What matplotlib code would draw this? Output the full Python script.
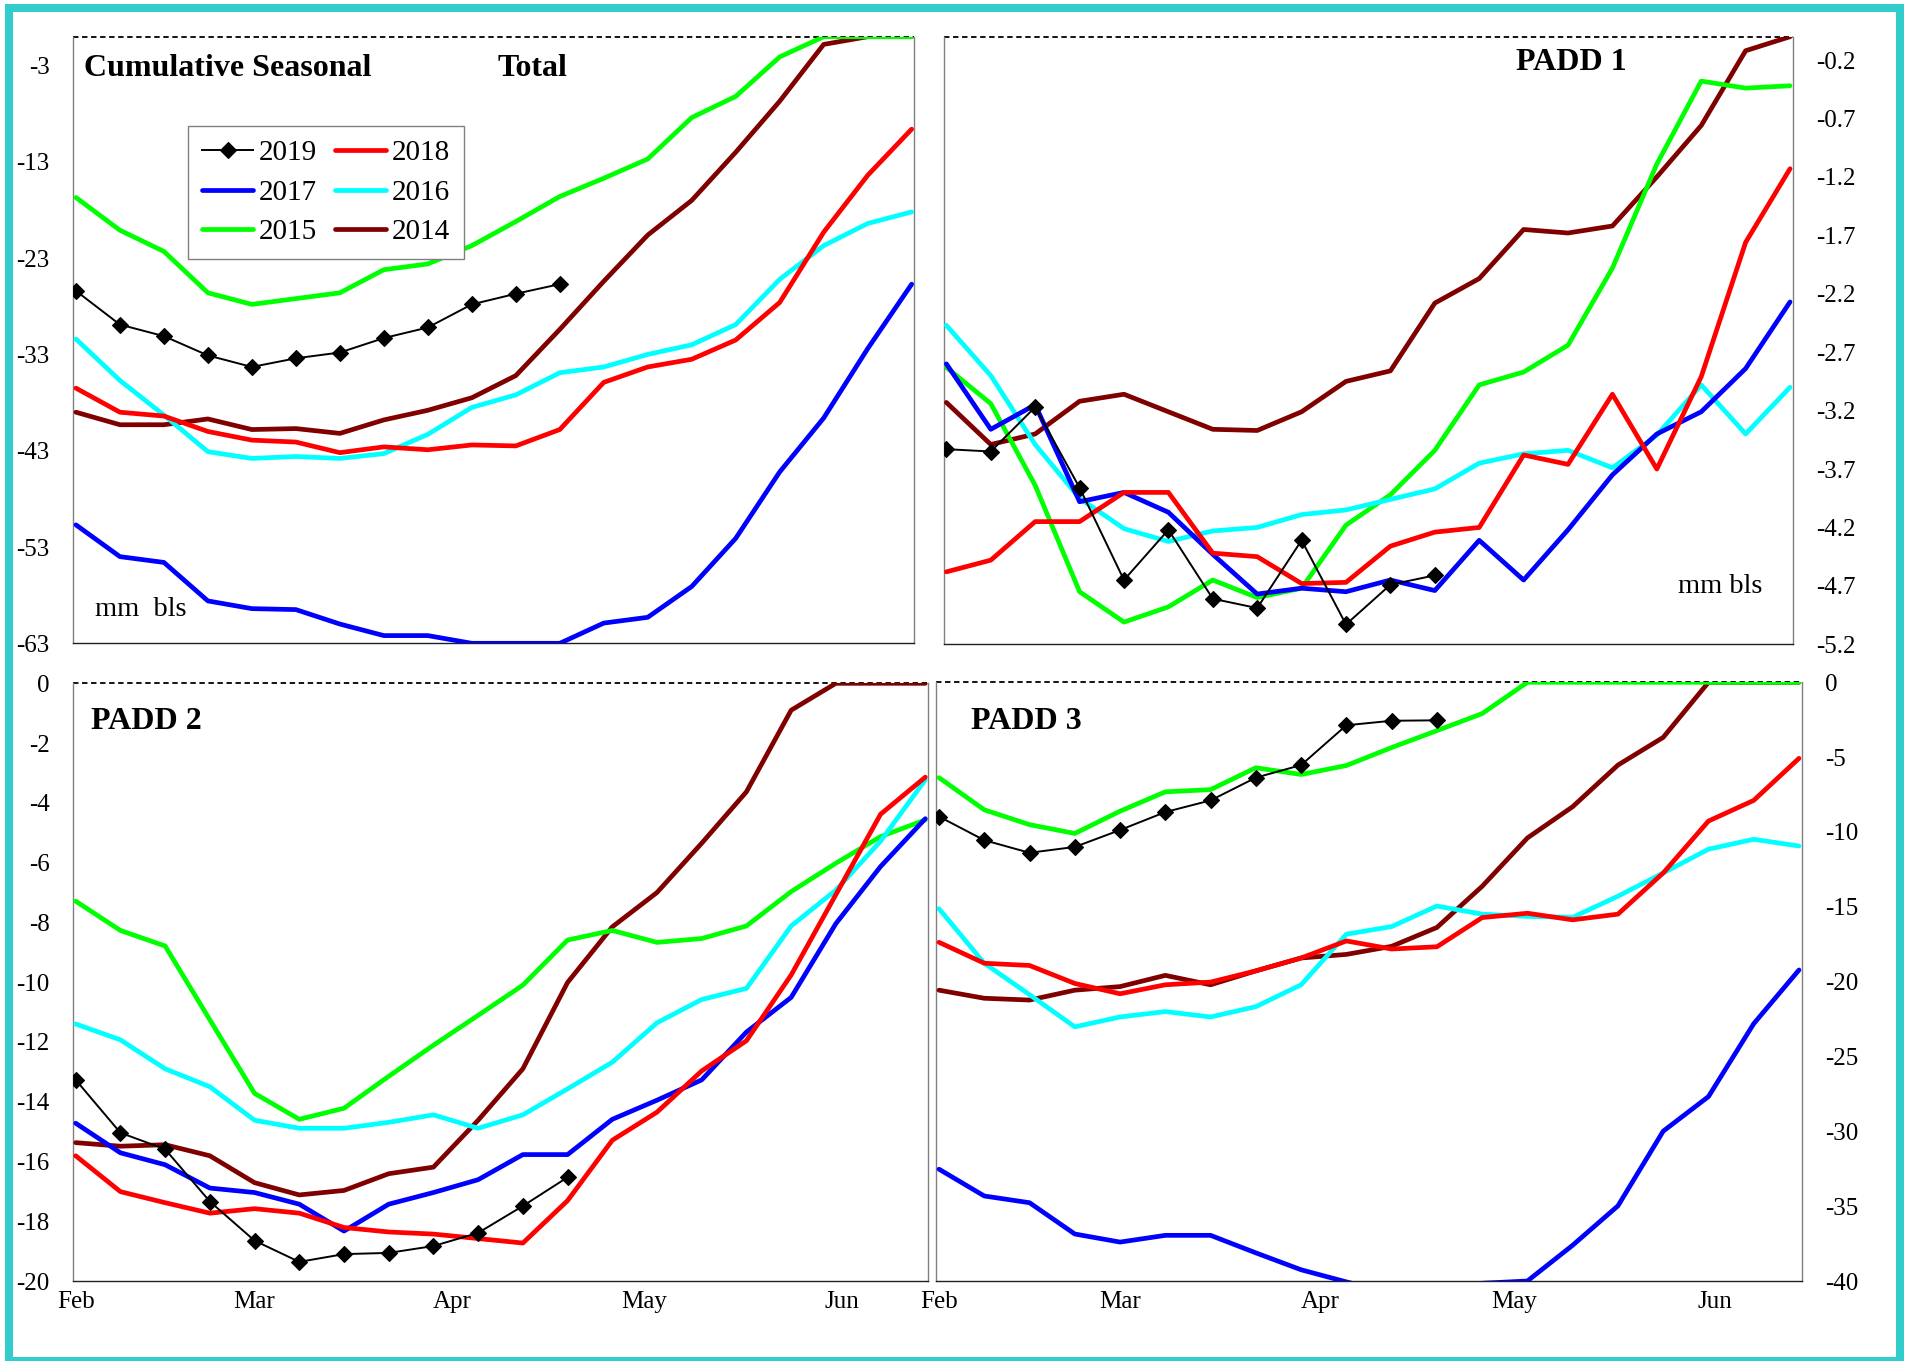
import matplotlib
matplotlib.use("Agg")
import matplotlib.pyplot as plt
import numpy as np
from matplotlib.patches import Rectangle

plt.rcParams['font.family'] = ['Liberation Serif', 'DejaVu Serif']
plt.rcParams['axes.unicode_minus'] = False

# ---------------- data ----------------
years = ['2019', '2018', '2017', '2016', '2015', '2014']
colors = {'2019': 'black', '2018': '#FF0000', '2017': '#0000FF',
          '2016': '#00FFFF', '2015': '#00FF00', '2014': '#800000'}
month_labels = ['Feb', 'Mar', 'Apr', 'May', 'Jun']
month_start_days = [0, 28, 59, 89, 120]   # days after Feb 1, weekly data

# Total (mm bls)
tot_2019 = [-26.4, -29.9, -31.1, -33.1, -34.3, -33.4, -32.8, -31.3, -30.2, -27.8, -26.7, -25.7]
tot_2018 = [-36.5, -39.0, -39.4, -41.0, -41.9, -42.1, -43.2, -42.6, -42.9, -42.4, -42.5, -40.8,
            -35.9, -34.3, -33.5, -31.5, -27.6, -20.3, -14.4, -9.6]
tot_2017 = [-50.7, -54.0, -54.6, -58.6, -59.4, -59.5, -61.0, -62.2, -62.2, -63.0, -63.0, -63.0,
            -60.9, -60.3, -57.1, -52.1, -45.2, -39.6, -32.4, -25.7]
tot_2016 = [-31.4, -35.7, -39.3, -43.1, -43.8, -43.6, -43.8, -43.3, -41.3, -38.5, -37.2, -34.9,
            -34.3, -33.0, -32.0, -29.9, -25.2, -21.7, -19.4, -18.2]
tot_2015 = [-16.7, -20.1, -22.3, -26.6, -27.8, -27.2, -26.6, -24.2, -23.6, -21.7, -19.2, -16.6,
            -14.7, -12.7, -8.4, -6.2, -2.1, 0.0, 0.0, 0.0]
tot_2014 = [-39.0, -40.3, -40.3, -39.7, -40.8, -40.7, -41.2, -39.8, -38.8, -37.5, -35.2, -30.4,
            -25.4, -20.6, -17.0, -12.0, -6.7, -0.8, 0.0, 0.0]

# PADD 1
p1_2019 = [-3.53, -3.55, -3.17, -3.86, -4.65, -4.22, -4.81, -4.89, -4.31, -5.03, -4.69, -4.61]
p1_2018 = [-4.58, -4.48, -4.15, -4.15, -3.90, -3.90, -4.42, -4.45, -4.68, -4.67, -4.36, -4.24,
           -4.20, -3.58, -3.66, -3.06, -3.70, -2.91, -1.76, -1.13]
p1_2017 = [-2.80, -3.36, -3.15, -3.98, -3.90, -4.07, -4.43, -4.77, -4.72, -4.75, -4.65, -4.74,
           -4.31, -4.65, -4.22, -3.75, -3.40, -3.21, -2.84, -2.27]
p1_2016 = [-2.47, -2.90, -3.49, -3.95, -4.21, -4.32, -4.23, -4.20, -4.09, -4.05, -3.96, -3.87,
           -3.65, -3.57, -3.54, -3.69, -3.41, -2.98, -3.40, -3.00]
p1_2015 = [-2.83, -3.14, -3.84, -4.75, -5.01, -4.88, -4.65, -4.80, -4.72, -4.18, -3.92, -3.54,
           -2.98, -2.87, -2.64, -1.98, -1.09, -0.38, -0.44, -0.42]
p1_2014 = [-3.13, -3.49, -3.40, -3.12, -3.06, -3.21, -3.36, -3.37, -3.21, -2.95, -2.86, -2.28,
           -2.07, -1.65, -1.68, -1.62, -1.20, -0.76, -0.12, 0.0]

# PADD 2
p2_2019 = [-13.27, -15.04, -15.59, -17.34, -18.65, -19.36, -19.10, -19.06, -18.83, -18.39, -17.49, -16.53]
p2_2018 = [-15.81, -17.01, -17.38, -17.73, -17.58, -17.73, -18.21, -18.36, -18.43, -18.58, -18.73, -17.31,
           -15.29, -14.35, -12.97, -11.96, -9.76, -7.07, -4.38, -3.14]
p2_2017 = [-14.72, -15.71, -16.11, -16.89, -17.04, -17.43, -18.33, -17.43, -17.04, -16.61, -15.77, -15.77,
           -14.59, -13.95, -13.27, -11.67, -10.51, -8.04, -6.13, -4.53]
p2_2016 = [-11.40, -11.93, -12.90, -13.50, -14.62, -14.89, -14.89, -14.69, -14.44, -14.89, -14.44, -13.57,
           -12.68, -11.36, -10.58, -10.21, -8.12, -6.92, -5.28, -3.23]
p2_2015 = [-7.29, -8.27, -8.79, -11.26, -13.72, -14.59, -14.22, -13.15, -12.11, -11.11, -10.10, -8.59,
           -8.27, -8.67, -8.54, -8.12, -6.97, -6.02, -5.13, -4.57]
p2_2014 = [-15.37, -15.49, -15.44, -15.81, -16.71, -17.12, -16.97, -16.41, -16.19, -14.62, -12.90, -10.01,
           -8.15, -7.00, -5.35, -3.63, -0.90, 0.0, 0.0, 0.0]

# PADD 3
p3_2019 = [-8.97, -10.55, -11.39, -11.00, -9.87, -8.67, -7.89, -6.37, -5.53, -2.87, -2.57, -2.54]
p3_2018 = [-17.37, -18.77, -18.92, -20.12, -20.81, -20.21, -20.03, -19.28, -18.42, -17.28, -17.82, -17.67,
           -15.72, -15.43, -15.87, -15.49, -12.74, -9.27, -7.89, -5.08]
p3_2017 = [-32.53, -34.32, -34.77, -36.86, -37.40, -36.95, -36.95, -38.12, -39.25, -40.06, -40.80, -40.60,
           -40.15, -40.00, -37.61, -34.98, -29.99, -27.68, -22.81, -19.22]
p3_2016 = [-15.13, -18.77, -20.87, -23.02, -22.36, -22.00, -22.36, -21.67, -20.21, -16.83, -16.32, -14.95,
           -15.49, -15.64, -15.70, -14.29, -12.74, -11.15, -10.49, -10.94]
p3_2015 = [-6.37, -8.52, -9.51, -10.10, -8.61, -7.32, -7.17, -5.71, -6.16, -5.56, -4.36, -3.23,
           -2.09, 0.0, 0.0, 0.0, 0.0, 0.0, 0.0, 0.0]
p3_2014 = [-20.57, -21.11, -21.23, -20.57, -20.33, -19.58, -20.21, -19.28, -18.42, -18.18, -17.64, -16.38,
           -13.63, -10.40, -8.31, -5.53, -3.68, 0.0, 0.0, 0.0]

panels = [
    dict(name='tot', series={'2019': tot_2019, '2018': tot_2018, '2017': tot_2017,
                             '2016': tot_2016, '2015': tot_2015, '2014': tot_2014},
         ylim=(-63, 0), yticks=[-63, -53, -43, -33, -23, -13, -3], fmt='{:.0f}', side='left',
         xlabels=False, rect=[73.3, 36.7, 914.3, 643.3]),
    dict(name='p1', series={'2019': p1_2019, '2018': p1_2018, '2017': p1_2017,
                            '2016': p1_2016, '2015': p1_2015, '2014': p1_2014},
         ylim=(-5.2, 0), yticks=[-5.2, -4.7, -4.2, -3.7, -3.2, -2.7, -2.2, -1.7, -1.2, -0.7, -0.2],
         fmt='{:.1f}', side='right', xlabels=False, rect=[943.7, 36.7, 1792.7, 644.3]),
    dict(name='p2', series={'2019': p2_2019, '2018': p2_2018, '2017': p2_2017,
                            '2016': p2_2016, '2015': p2_2015, '2014': p2_2014},
         ylim=(-20, 0), yticks=list(range(-20, 1, 2)), fmt='{:.0f}', side='left',
         xlabels=True, rect=[73.0, 683.3, 928.0, 1281.0]),
    dict(name='p3', series={'2019': p3_2019, '2018': p3_2018, '2017': p3_2017,
                            '2016': p3_2016, '2015': p3_2015, '2014': p3_2014},
         ylim=(-40, 0), yticks=list(range(-40, 1, 5)), fmt='{:.0f}', side='right',
         xlabels=True, rect=[936.3, 682.3, 1801.7, 1281.0]),
]

W, H = 1911, 1361
fig = plt.figure(figsize=(W / 100, H / 100), dpi=100)
fig.patch.set_facecolor('white')

TICK_FS = 18
axes = {}
for p in panels:
    x0, y0, x1, y1 = p['rect']
    ax = fig.add_axes([x0 / W, 1 - y1 / H, (x1 - x0) / W, (y1 - y0) / H])
    axes[p['name']] = ax
    handles = {}
    for yr in ['2014', '2015', '2016', '2017', '2018']:
        vals = p['series'][yr]
        h, = ax.plot(np.arange(len(vals)), vals, color=colors[yr], lw=3.4, zorder=3,
                     solid_capstyle='round', solid_joinstyle='round', label=yr)
        handles[yr] = h
    vals = p['series']['2019']
    h, = ax.plot(np.arange(len(vals)), vals, color='black', lw=1.4, marker='D', ms=8.5,
                 mew=0.8, zorder=5, label='2019')
    handles['2019'] = h
    ax.axhline(0, color='black', lw=1.3, ls=(0, (3, 2)), zorder=2, clip_on=False)
    p['handles'] = handles

    ax.set_xlim(-0.06, 19.06)
    ax.set_ylim(*p['ylim'])
    ax.set_yticks(p['yticks'])
    ax.set_yticklabels([p['fmt'].format(v) for v in p['yticks']])
    ax.set_xticks(np.array(month_start_days) / 7.0)
    if p['xlabels']:
        ax.set_xticklabels(month_labels)
    else:
        ax.set_xticklabels([])
    ax.tick_params(axis='both', length=0, labelsize=TICK_FS, colors='black')
    ax.tick_params(axis='x', pad=7)
    if p['side'] == 'right':
        ax.yaxis.tick_right()
    ax.tick_params(axis='y', pad=17)
    for s in ['left', 'right']:
        ax.spines[s].set_color('#808080')
        ax.spines[s].set_linewidth(1.0)
    ax.spines['bottom'].set_color('#202020')
    ax.spines['bottom'].set_linewidth(1.0)
    ax.spines['top'].set_visible(False)

# panel texts
ax = axes['tot']
ax.text(0.0133, 0.935, 'Cumulative Seasonal', transform=ax.transAxes, fontsize=23,
        fontweight='bold', ha='left', va='baseline')
ax.text(0.504, 0.935, 'Total', transform=ax.transAxes, fontsize=23,
        fontweight='bold', ha='left', va='baseline')
ax.text(0.0258, 0.045, 'mm  bls', transform=ax.transAxes, fontsize=20.5,
        ha='left', va='baseline')
hd = [panels[0]['handles'][y] for y in ['2019', '2017', '2015', '2018', '2016', '2014']]
leg = ax.legend(hd, [h.get_label() for h in hd], ncol=2, loc='upper left',
                bbox_to_anchor=(0.1367, 0.853), borderaxespad=0, fontsize=21,
                frameon=True, fancybox=False, shadow=False, framealpha=1.0,
                handlelength=1.75, handletextpad=0.2, columnspacing=0.6,
                labelspacing=0.45, borderpad=0.48)
leg.get_frame().set_edgecolor('#808080')
leg.get_frame().set_linewidth(1.0)
leg.set_zorder(10)

ax = axes['p1']
ax.text(0.739, 0.946, 'PADD 1', transform=ax.transAxes, fontsize=23,
        fontweight='bold', ha='center', va='baseline')
ax.text(0.865, 0.0844, 'mm bls', transform=ax.transAxes, fontsize=20.5,
        ha='left', va='baseline')

ax = axes['p2']
ax.text(0.0206, 0.923, 'PADD 2', transform=ax.transAxes, fontsize=23,
        fontweight='bold', ha='left', va='baseline')

ax = axes['p3']
ax.text(0.0396, 0.9215, 'PADD 3', transform=ax.transAxes, fontsize=23,
        fontweight='bold', ha='left', va='baseline')

# teal outer frame
frame = Rectangle((9 / W, 0.0), (1900 - 9) / W, 1 - 8 / H, transform=fig.transFigure,
                  facecolor='none', edgecolor='#33CCCC', linewidth=8 * 0.72, clip_on=False)
fig.add_artist(frame)

fig.savefig('out.png', dpi=100, facecolor='white')
